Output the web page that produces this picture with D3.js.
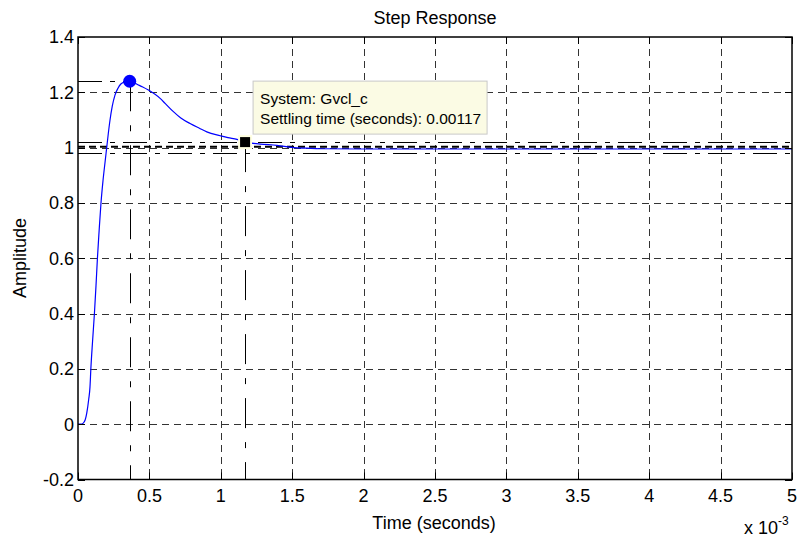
<!DOCTYPE html>
<html>
<head>
<meta charset="utf-8">
<script src="https://cdn.jsdelivr.net/npm/d3@7"></script>
<style>
  html, body { margin: 0; padding: 0; background: #fff; }
  svg { display: block; }
  text { font-family: "Liberation Sans", Arial, sans-serif; fill: #000; }
</style>
</head>
<body>
<svg id="chart" width="799" height="541"></svg>
<script>
// ---- data (time in units of 1e-3 s) ----
const timeMs = [0, 0.02, 0.035, 0.05, 0.061, 0.075, 0.084, 0.09, 0.102, 0.115, 0.126, 0.136, 0.148, 0.161, 0.175, 0.19, 0.201, 0.212, 0.224, 0.24, 0.259, 0.28, 0.3, 0.33, 0.362, 0.39, 0.41, 0.45, 0.493, 0.575, 0.61, 0.668, 0.72, 0.785, 0.85, 0.902, 0.996, 1.05, 1.113, 1.17, 1.276, 1.393, 1.51, 1.6, 1.697, 2.0, 3.0, 4.0, 5.0];
const amplitude = [0, 0, 0.003, 0.015, 0.039, 0.09, 0.135, 0.2, 0.3, 0.4, 0.5, 0.6, 0.7, 0.8, 0.88, 0.95, 1.0, 1.05, 1.099, 1.15, 1.19, 1.215, 1.23, 1.238, 1.24, 1.236, 1.23, 1.22, 1.208, 1.178, 1.16, 1.13, 1.107, 1.087, 1.07, 1.057, 1.043, 1.036, 1.03, 1.02, 1.013, 1.008, 1.0, 0.998, 0.996, 0.995, 0.995, 0.995, 0.995];
const xTicks = [0, 0.5, 1, 1.5, 2, 2.5, 3, 3.5, 4, 4.5, 5];
const xTickLabels = ["0", "0.5", "1", "1.5", "2", "2.5", "3", "3.5", "4", "4.5", "5"];
const yTicks = [-0.2, 0, 0.2, 0.4, 0.6, 0.8, 1, 1.2, 1.4];
const yTickLabels = ["-0.2", "0", "0.2", "0.4", "0.6", "0.8", "1", "1.2", "1.4"];
const peakTime = 0.362, peakAmp = 1.24;
const settlingTime = 1.17, settlingAmp = 1.02;
const finalValue = 1.0, settlingBand = 0.02;
const tipLines = ["System: Gvcl_c", "Settling time (seconds): 0.00117"];
const titleText = "Step Response";
const xLabelText = "Time (seconds)";
const yLabelText = "Amplitude";

// ---- layout ----
const L = 78, R = 792, T = 37, B = 479.5;
const svg = d3.select("#chart");
const x = d3.scaleLinear().domain([0, 5]).range([L, R]);
const y = d3.scaleLinear().domain([-0.2, 1.4]).range([B, T]);

// grid
const grid = svg.append("g").attr("stroke", "#333").attr("stroke-width", 1).attr("stroke-dasharray", "7,5");
grid.selectAll("line.gx").data(xTicks.slice(1, -1)).join("line")
  .attr("x1", d => Math.round(x(d)) + 0.5).attr("x2", d => Math.round(x(d)) + 0.5)
  .attr("y1", T).attr("y2", B);
grid.selectAll("line.gy").data(yTicks.slice(1, -1)).join("line")
  .attr("y1", d => Math.round(y(d)) + 0.5).attr("y2", d => Math.round(y(d)) + 0.5)
  .attr("x1", L).attr("x2", R);

// characteristic lines (dash-dot)
const dashDot = "24,8,5,8";
const ch = svg.append("g").attr("stroke", "#000").attr("stroke-width", 1).attr("fill", "none");
[finalValue + settlingBand, finalValue - settlingBand].forEach(v => {
  ch.append("line").attr("x1", L).attr("x2", R)
    .attr("y1", Math.round(y(v)) + 0.5).attr("y2", Math.round(y(v)) + 0.5)
    .attr("stroke-dasharray", dashDot);
});
ch.append("line").attr("x1", L).attr("x2", R)
  .attr("y1", y(finalValue) - 1).attr("y2", y(finalValue) - 1)
  .attr("stroke-width", 2).attr("stroke-dasharray", "7,4");
ch.append("line").attr("x1", L).attr("x2", x(peakTime))
  .attr("y1", Math.round(y(peakAmp)) + 0.5).attr("y2", Math.round(y(peakAmp)) + 0.5)
  .attr("stroke-dasharray", dashDot);
ch.append("line").attr("x1", Math.round(x(peakTime)) + 0.5).attr("x2", Math.round(x(peakTime)) + 0.5)
  .attr("y1", y(peakAmp)).attr("y2", B).attr("stroke-dasharray", "30,14,6,14");
ch.append("line").attr("x1", Math.round(x(settlingTime)) + 0.5).attr("x2", Math.round(x(settlingTime)) + 0.5)
  .attr("y1", y(settlingAmp)).attr("y2", B).attr("stroke-dasharray", "30,14,6,14");

// response curve
const line = d3.line().x((d, i) => x(timeMs[i])).y((d, i) => y(amplitude[i])).curve(d3.curveMonotoneX);
svg.append("path").datum(amplitude).attr("d", line)
  .attr("fill", "none").attr("stroke", "#0000ff").attr("stroke-width", 1.2);

// axes box
const axG = svg.append("g");
axG.append("rect").attr("x", L).attr("y", T).attr("width", R - L).attr("height", B - T)
  .attr("fill", "none").attr("stroke", "#000").attr("stroke-width", 1.5);
const tl = 7;
const tk = axG.append("g").attr("stroke", "#000").attr("stroke-width", 1);
xTicks.forEach(d => {
  const xx = Math.round(x(d)) + 0.5;
  tk.append("line").attr("x1", xx).attr("x2", xx).attr("y1", B).attr("y2", B - tl);
  tk.append("line").attr("x1", xx).attr("x2", xx).attr("y1", T).attr("y2", T + tl);
});
yTicks.forEach(d => {
  const yy = Math.round(y(d)) + 0.5;
  tk.append("line").attr("x1", L).attr("x2", L + tl).attr("y1", yy).attr("y2", yy);
  tk.append("line").attr("x1", R).attr("x2", R - tl).attr("y1", yy).attr("y2", yy);
});

// tick labels
const fs = 18;
svg.append("g").selectAll("text").data(xTicks).join("text")
  .attr("x", d => x(d)).attr("y", 502).attr("text-anchor", "middle")
  .attr("font-size", fs).text((d, i) => xTickLabels[i]);
svg.append("g").selectAll("text").data(yTicks).join("text")
  .attr("x", 74).attr("y", d => y(d)).attr("dy", "0.36em").attr("text-anchor", "end")
  .attr("font-size", fs).text((d, i) => yTickLabels[i]);

// markers
svg.append("circle").attr("cx", x(peakTime)).attr("cy", y(peakAmp)).attr("r", 6.5).attr("fill", "#0000ff");
svg.append("rect").attr("x", x(settlingTime) - 6).attr("y", y(settlingAmp) - 6)
  .attr("width", 12).attr("height", 12).attr("fill", "#000")
  .attr("stroke", "#ffffe1").attr("stroke-width", 2);

// datatip
const tipX = x(settlingTime) + 8, tipY = y(settlingAmp) - 61;
svg.append("rect").attr("x", tipX).attr("y", tipY).attr("width", 234).attr("height", 53)
  .attr("fill", "#fbfbe4").attr("stroke", "#c8c8c8").attr("stroke-width", 1);
svg.append("g").selectAll("text").data(tipLines).join("text")
  .attr("x", tipX + 7).attr("y", (d, i) => tipY + 22.5 + i * 20)
  .attr("font-size", 15.5).text(d => d);

// titles
svg.append("text").attr("x", 435).attr("y", 24).attr("text-anchor", "middle").attr("font-size", fs).text(titleText);
svg.append("text").attr("x", 434).attr("y", 529).attr("text-anchor", "middle").attr("font-size", fs).text(xLabelText);
svg.append("text").attr("transform", "translate(26,258) rotate(-90)").attr("text-anchor", "middle").attr("font-size", fs).text(yLabelText);
const ex = svg.append("text").attr("x", 744).attr("y", 534).attr("font-size", fs);
ex.append("tspan").text("x 10");
ex.append("tspan").attr("dy", -9).attr("font-size", 12).text("-3");
</script>
</body>
</html>
